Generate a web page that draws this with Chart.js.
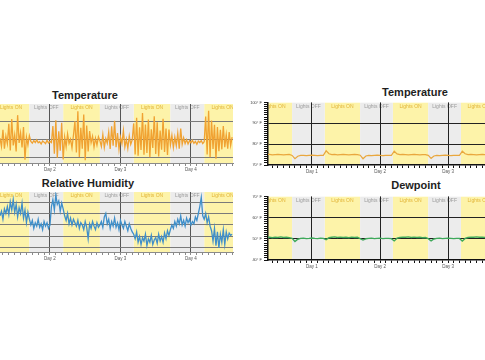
<!DOCTYPE html>
<html>
<head>
<meta charset="utf-8">
<script src="https://cdn.jsdelivr.net/npm/chart.js@4/dist/chart.umd.min.js"></script>
<style>
  html, body { margin: 0; padding: 0; background: #fff; }
  body { width: 485px; height: 360px; position: relative; overflow: hidden; font-family: "Liberation Sans", Arial, sans-serif; }
  canvas { position: absolute; }
  .title { position: absolute; font-weight: bold; font-size: 11px; color: #1e1e1e; transform: translate(-50%, -50%); white-space: nowrap; }
</style>
</head>
<body>
<div class="title" style="left:85px; top:95px;">Temperature</div>
<div class="title" style="left:88px; top:183px;">Relative Humidity</div>
<div class="title" style="left:415px; top:92px;">Temperature</div>
<div class="title" style="left:416px; top:185px;">Dewpoint</div>

<canvas id="tempLeft" style="left:0px; top:100px;" width="236" height="75"></canvas>
<canvas id="humLeft" style="left:0px; top:189px;" width="236" height="75"></canvas>
<canvas id="tempRight" style="left:245px; top:98px;" width="240" height="79"></canvas>
<canvas id="dewRight" style="left:245px; top:192px;" width="240" height="80"></canvas>

<script>
// light periods, in hours from the start of Day 0
var lightsOff = [[17, 28.5], [41, 52.5], [65, 76.5], [89, 100.5]]
var lightsOn = [[4.5, 17], [28.5, 41], [52.5, 65], [76.5, 89], [100.5, 113]]

// left panel: one sample every half hour from hour 31
var leftStart = 31
var leftStep = 0.5
var leftDays = [48, 72, 96]

var tempLeft = [
  75.5, 73.2, 77.8, 72.6, 76.1, 74.0, 79.5, 72.1, 80.8, 73.5, 76.4, 71.8, 81.9, 74.2, 77.0, 72.9, 78.6, 69.5, 75.8, 73.6, 76.2,
  74.6, 74.1, 74.8, 74.3, 75.0, 74.2, 74.5, 73.9, 74.7, 74.4, 74.0, 74.9, 74.2, 74.6, 74.3,
  78.9, 71.2, 80.5, 70.1, 77.4, 72.0, 79.8, 69.6,
  75.8, 73.1, 76.7, 74.0, 75.2, 72.8, 76.3,
  80.2, 71.5, 83.0, 70.3, 78.4, 72.6, 82.1, 69.4, 79.0, 71.8, 77.5,
  74.2, 76.0, 73.0, 75.5, 73.6, 75.9,
  74.8, 73.2, 76.5, 72.9, 75.4, 74.1, 77.2, 72.5, 78.8, 73.4, 80.3, 73.0, 76.9, 72.4, 75.8, 74.0, 77.6, 73.1, 75.2, 72.7, 76.1, 73.8, 75.0,
  79.6, 71.0, 81.2, 70.6, 78.5, 72.2, 82.5, 70.9, 79.3, 71.4, 80.7, 70.2, 78.0, 72.8, 81.6, 71.1, 79.9, 70.4, 77.6, 72.3, 80.9, 71.7, 78.2, 70.8, 77.9,
  73.6, 76.3, 72.9, 75.8, 73.4, 76.9, 72.6, 78.2, 73.8, 75.6, 74.0, 75.1, 73.9, 74.8, 74.2, 74.9, 74.1, 74.6, 73.8, 74.7, 74.3, 74.8, 74.0, 74.5,
  81.5, 71.0, 83.1, 70.2, 80.4, 72.5, 79.2, 69.8, 78.6, 71.9, 77.8, 72.4, 78.9, 73.0, 76.5, 72.6, 77.2, 73.5, 75.8
]

var humidity = [
  58, 62, 55, 64, 60, 66, 59, 70, 63, 72, 61, 68, 57, 65, 60, 69, 56, 63, 52, 61, 55,
  50, 54, 47, 52, 49, 55, 48, 51, 46, 53, 49, 52, 47, 50,
  66, 72, 63, 76, 68, 71, 62, 69, 64,
  58, 54, 60, 51, 56, 50, 55, 52,
  49, 54, 47, 52, 50, 46, 53, 48, 38, 51, 47, 53, 49, 46, 52, 48, 50,
  53, 48, 57, 60, 51, 55, 47, 53, 49, 56, 48, 52, 46, 54, 50, 47, 53, 49, 45, 51, 47, 44,
  42, 38, 44, 35, 40, 33, 39, 36, 42, 32, 38, 35, 41, 33, 37, 39, 34, 42, 36, 40, 35, 43, 38, 45, 41,
  46, 50, 47, 53, 49, 55, 51, 58, 50, 54, 49, 56, 52, 55, 50, 53, 51, 57, 54, 60, 66, 74, 58, 55,
  60, 52, 57, 49, 45, 36, 47, 32, 44, 30, 42, 35, 46, 33, 44, 38, 43, 41, 42
]

// right panel: one sample every hour from hour 8
var rightStart = 8
var rightStep = 1
var rightDays = [24, 48, 72]

var tempRight = [
  75.0, 75.1, 74.9, 75.0, 75.1, 75.0, 74.9, 75.0, 75.1,
  74.6, 73.0, 74.2, 74.6, 74.6, 74.5, 74.6, 74.7, 74.6, 74.5, 74.6, 74.6,
  76.8, 75.4, 75.0, 75.1, 74.9, 75.0, 75.1, 75.0, 74.9, 75.0, 75.1, 75.0,
  74.7, 73.0, 74.3, 74.6, 74.5, 74.6, 74.7, 74.6, 74.5, 74.6, 74.6, 74.6,
  76.6, 75.3, 75.0, 75.1, 75.0, 74.9, 75.0, 75.1, 75.0, 74.9, 75.0, 75.0,
  74.6, 73.2, 74.3, 74.6, 74.5, 74.6, 74.7, 74.6, 74.5, 74.6, 74.6, 74.6,
  76.6, 75.4, 75.0, 75.1, 75.0, 74.9, 75.0, 75.1, 75.0
]

var dewpoint = [
  50.6, 50.8, 50.5, 50.7, 50.6, 50.9, 50.6, 50.7, 50.5,
  50.2, 48.7, 49.8, 50.2, 50.3, 50.1, 50.2, 50.4, 50.2, 50.1, 50.3, 50.2,
  49.6, 50.5, 50.7, 50.9, 50.6, 50.8, 50.6, 50.7, 50.5, 50.8, 50.6, 50.7,
  50.1, 49.4, 50.0, 50.2, 50.3, 50.1, 50.2, 50.3, 50.1, 50.2, 50.2, 50.1,
  49.0, 50.3, 50.6, 50.8, 50.7, 50.9, 50.6, 50.8, 50.6, 50.7, 50.5, 50.6,
  50.1, 49.0, 49.9, 50.2, 50.3, 50.1, 50.2, 50.3, 50.2, 50.1, 50.2, 50.2,
  48.9, 50.2, 50.6, 50.8, 50.7, 50.9, 50.7, 50.8, 50.6
]

function toPoints(values, start, step) {
  return values.map(function (v, i) { return { x: start + i * step, y: v } })
}

var bandsPlugin = {
  id: 'bands',
  beforeDraw: function (chart) {
    var ctx = chart.ctx
    var area = chart.chartArea
    var x = chart.scales.x
    ctx.save()
    ctx.beginPath()
    ctx.rect(area.left, area.top, area.right - area.left, area.bottom - area.top)
    ctx.clip()
    function band(list, fill, label, color) {
      list.forEach(function (b) {
        var x0 = x.getPixelForValue(b[0])
        var x1 = x.getPixelForValue(b[1])
        ctx.fillStyle = fill
        ctx.fillRect(x0, area.top, x1 - x0, area.bottom - area.top)
        ctx.fillStyle = color
        ctx.font = '5px "Liberation Sans", Arial, sans-serif'
        ctx.textAlign = 'center'
        ctx.textBaseline = 'middle'
        ctx.fillText(label, (x0 + x1) / 2, area.top + 4)
      })
    }
    band(lightsOn, '#fdf3a9', 'Lights ON', '#e2b437')
    band(lightsOff, '#ececec', 'Lights OFF', '#9b9b9b')
    ctx.restore()
  }
}

function makeChart(id, opts) {
  var xTicks = []
  for (var h = Math.ceil(opts.xMin / 2) * 2; h <= opts.xMax; h += 2) xTicks.push(h)
  var yTicks = opts.yTicks
  return new Chart(id, {
    type: 'line',
    data: {
      datasets: [{
        data: toPoints(opts.values, opts.start, opts.step),
        borderColor: opts.color,
        borderWidth: opts.lineWidth,
        pointRadius: 0,
        tension: 0,
        fill: false
      }]
    },
    options: {
      animation: false,
      responsive: false,
      layout: { padding: { top: opts.padTop, right: opts.padRight, left: 0, bottom: 0 } },
      plugins: { legend: { display: false }, tooltip: { enabled: false }, title: { display: false } },
      scales: {
        x: {
          type: 'linear',
          min: opts.xMin,
          max: opts.xMax,
          afterBuildTicks: function (s) { s.ticks = xTicks.map(function (v) { return { value: v } }) },
          afterFit: function (s) { s.height = 12 },
          ticks: {
            autoSkip: false,
            maxRotation: 0,
            padding: 1,
            color: '#555',
            font: { size: 4.5, family: '"Liberation Sans", Arial, sans-serif' },
            callback: function (v) { return v % 24 === 0 ? 'Day ' + (v / 24) : '' }
          },
          grid: {
            tickLength: 3,
            tickColor: opts.axisColor,
            color: function (c) { return c.tick && c.tick.value % 24 === 0 ? opts.dayColor : 'rgba(0,0,0,0)' },
            lineWidth: 1
          },
          border: { color: opts.axisColor, width: opts.axisWidth }
        },
        y: {
          min: opts.yMin,
          max: opts.yMax,
          afterBuildTicks: function (s) { s.ticks = yTicks.map(function (v) { return { value: v } }) },
          afterFit: function (s) { s.width = opts.yWidth },
          ticks: {
            display: opts.yLabels,
            autoSkip: false,
            padding: 2,
            color: '#444',
            font: { size: 4, family: '"Liberation Sans", Arial, sans-serif' },
            callback: function (v) { return v % 10 === 0 ? v + '\u00b0 F' : '' }
          },
          grid: {
            drawTicks: opts.yLabels,
            tickLength: 4,
            tickColor: '#111',
            color: function (c) {
              if (!c.tick) return 'rgba(0,0,0,0)'
              return opts.yMajor.indexOf(c.tick.value) >= 0 ? opts.gridColor : 'rgba(0,0,0,0)'
            },
            lineWidth: 1
          },
          border: { display: opts.yLabels, color: '#111', width: 1.5 }
        }
      }
    },
    plugins: [bandsPlugin]
  })
}

makeChart('tempLeft', {
  values: tempLeft, start: leftStart, step: leftStep, color: '#f0a232', lineWidth: 1.3,
  xMin: 31, xMax: 110.3, yMin: 68.6, yMax: 85, yTicks: [70, 75, 80, 85], yMajor: [70, 75, 80],
  padTop: 4, padRight: 3, yWidth: 0, yLabels: false,
  axisColor: '#8a8a8a', axisWidth: 1, dayColor: '#555', gridColor: '#7a7a7a'
})

makeChart('humLeft', {
  values: humidity, start: leftStart, step: leftStep, color: '#3f8fca', lineWidth: 1.3,
  xMin: 31, xMax: 110.3, yMin: 26.5, yMax: 78.7, yTicks: [30, 40, 50, 60, 70], yMajor: [30, 40, 50, 60, 70],
  padTop: 3, padRight: 3, yWidth: 0, yLabels: false,
  axisColor: '#8a8a8a', axisWidth: 1, dayColor: '#555', gridColor: '#7a7a7a'
})

var tempRightTicks = []
for (var t = 70; t <= 100; t++) tempRightTicks.push(t)
var dewTicks = []
for (var d = 40; d <= 70; d++) dewTicks.push(d)

makeChart('tempRight', {
  values: tempRight, start: rightStart, step: rightStep, color: '#e9a73e', lineWidth: 1.2,
  xMin: 8.5, xMax: 85, yMin: 70, yMax: 100, yTicks: tempRightTicks, yMajor: [80, 90],
  padTop: 3.5, padRight: 0, yWidth: 23, yLabels: true,
  axisColor: '#111', axisWidth: 1.5, dayColor: '#222', gridColor: '#222'
})

makeChart('dewRight', {
  values: dewpoint, start: rightStart, step: rightStep, color: '#3ea95a', lineWidth: 1.4,
  xMin: 8.5, xMax: 85, yMin: 40, yMax: 70, yTicks: dewTicks, yMajor: [50, 60],
  padTop: 3, padRight: 0, yWidth: 23, yLabels: true,
  axisColor: '#111', axisWidth: 1.5, dayColor: '#222', gridColor: '#222'
})
</script>
</body>
</html>
